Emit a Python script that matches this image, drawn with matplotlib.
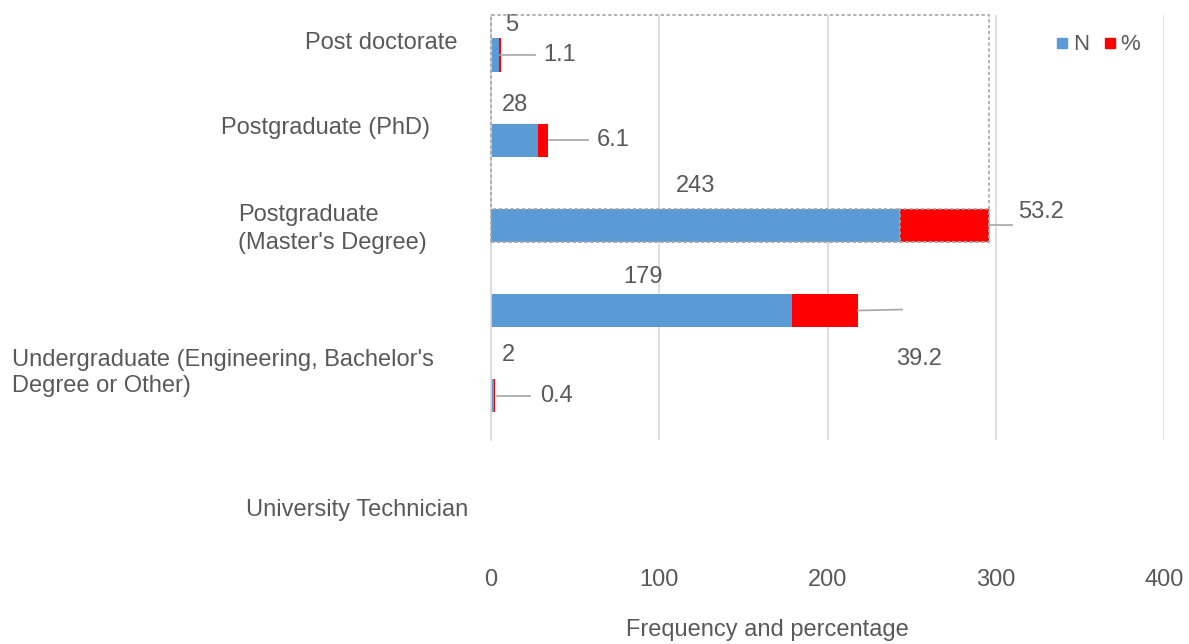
import matplotlib
matplotlib.use("Agg")
import matplotlib.pyplot as plt
from matplotlib.transforms import offset_copy
from matplotlib.patches import Rectangle
from matplotlib.lines import Line2D

# data (top to bottom)
categories = ["Post doctorate", "Postgraduate (PhD)", "Postgraduate\n(Master's Degree)",
              "Undergraduate (Engineering, Bachelor's\nDegree or Other)", "University Technician"]
n_values = [5, 28, 243, 179, 2]
pct_values = [1.1, 6.1, 53.2, 39.2, 0.4]
xticks = [0, 100, 200, 300, 400]

W, H = 1189, 644
BLUE = "#5b9bd5"
RED = "#ff0000"
TXT = "#595959"
GRID = "#d9d9d9"
FS = 17

plt.rcParams['font.family'] = ['Liberation Sans', 'DejaVu Sans']

fig = plt.figure(figsize=(W / 100, H / 100), dpi=100)
ax = fig.add_axes([491 / W, 1 - 440 / H, (1164 - 491) / W, (440 - 15) / H])

ypos = [4, 3, 2, 1, 0]
bh = 0.39
ax.barh(ypos, n_values, height=bh, color=BLUE)
ax.barh(ypos, pct_values, left=n_values, height=bh, color=RED)

# selected series outline (Master's row)
sel = 2
for left, w, c in [(0, n_values[sel], BLUE), (n_values[sel], pct_values[sel], RED)]:
    ax.add_patch(Rectangle((left, ypos[sel] - bh / 2), w, bh, facecolor=c,
                           edgecolor="#a6a6a6", linestyle=(0, (2, 1.5)), lw=1.2, zorder=3))
ax.set_xlim(0, 400)
ax.set_ylim(-0.52, 4.47)
end_sel = n_values[sel] + pct_values[sel]
ax.add_patch(Rectangle((0, ypos[sel] - bh / 2), end_sel, 4.47 - (ypos[sel] - bh / 2),
                       fill=False, edgecolor="#a6a6a6", linestyle=(0, (2, 1.5)), lw=1.2,
                       clip_on=False, zorder=4))

# N labels (offsets in pixels from blue segment centre)
n_off = [(16, 30), (0, 35), (0, 39), (1, 34), (16, 41)]
for y, n, (dx, dy) in zip(ypos, n_values, n_off):
    tr = offset_copy(ax.transData, fig=fig, x=dx, y=dy, units='dots')
    ax.text(n / 2, y, str(n), transform=tr, ha='center', va='center', fontsize=FS, color=TXT)

# % labels with leader lines (offsets in pixels from bar end)
pct_line = [((-1, 0), (34, 0)), ((1, 0), (40, 0)), ((1, 0), (23, 0)), ((0, 0), (44, 1)), ((2, 0), (35, 0))]
pct_txt = [(42, 0), (48, 0), (29, 13), (38, -48), (45, 0)]
for y, n, p, (a, b), (tx, ty) in zip(ypos, n_values, pct_values, pct_line, pct_txt):
    end = n + p
    t0 = offset_copy(ax.transData, fig=fig, x=a[0], y=a[1], units='dots')
    t1 = offset_copy(ax.transData, fig=fig, x=b[0], y=b[1], units='dots')
    p0 = t0.transform((end, y))
    p1 = t1.transform((end, y))
    fig.add_artist(Line2D([p0[0] / W, p1[0] / W], [p0[1] / H, p1[1] / H],
                          transform=fig.transFigure, color="#a6a6a6", lw=1.2))
    tr = offset_copy(ax.transData, fig=fig, x=tx, y=ty, units='dots')
    ax.text(end, y, f"{p}", transform=tr, ha='left', va='center', fontsize=FS, color=TXT)

# axes styling
ax.set_xticks(xticks)
ax.set_xticklabels([str(t) for t in xticks])
ax.xaxis.grid(True, color=GRID, lw=1.2)
ax.set_axisbelow(True)
ax.set_yticks([])
for s in ["top", "right", "bottom"]:
    ax.spines[s].set_visible(False)
ax.spines["left"].set_color(GRID)
ax.spines["left"].set_linewidth(1.2)
ax.tick_params(axis='x', length=0, pad=93, labelsize=FS, labelcolor=TXT)
ax.set_xlabel("Frequency and percentage", fontsize=FS, color=TXT)
ax.xaxis.set_label_coords((767 - 491) / (1164 - 491), -(630 - 440) / (440 - 15))
ax.xaxis.label.set_va('center')

# category labels (as placed in the original)
cat_pos = [(305, 43), (221, 128), (238, 229), (12, 373), (246, 510)]
cat_ls = [1.1, 1.1, 1.38, 1.24, 1.1]
for label, (px, py), ls in zip(categories, cat_pos, cat_ls):
    fig.text(px / W, 1 - py / H, label, ha='left', va='center', fontsize=FS,
             color=TXT, linespacing=ls)

handles = [Line2D([], [], marker='s', color=BLUE, ls='none', markersize=7),
           Line2D([], [], marker='s', color=RED, ls='none', markersize=7)]
fig.legend(handles, ["N", "%"], loc='center', bbox_to_anchor=(1098 / W, 1 - 45 / H), ncol=2,
           frameon=False, fontsize=FS - 1, labelcolor=TXT, handlelength=0.6,
           handletextpad=0.2, columnspacing=0.6)

fig.savefig("out.png", dpi=100)
